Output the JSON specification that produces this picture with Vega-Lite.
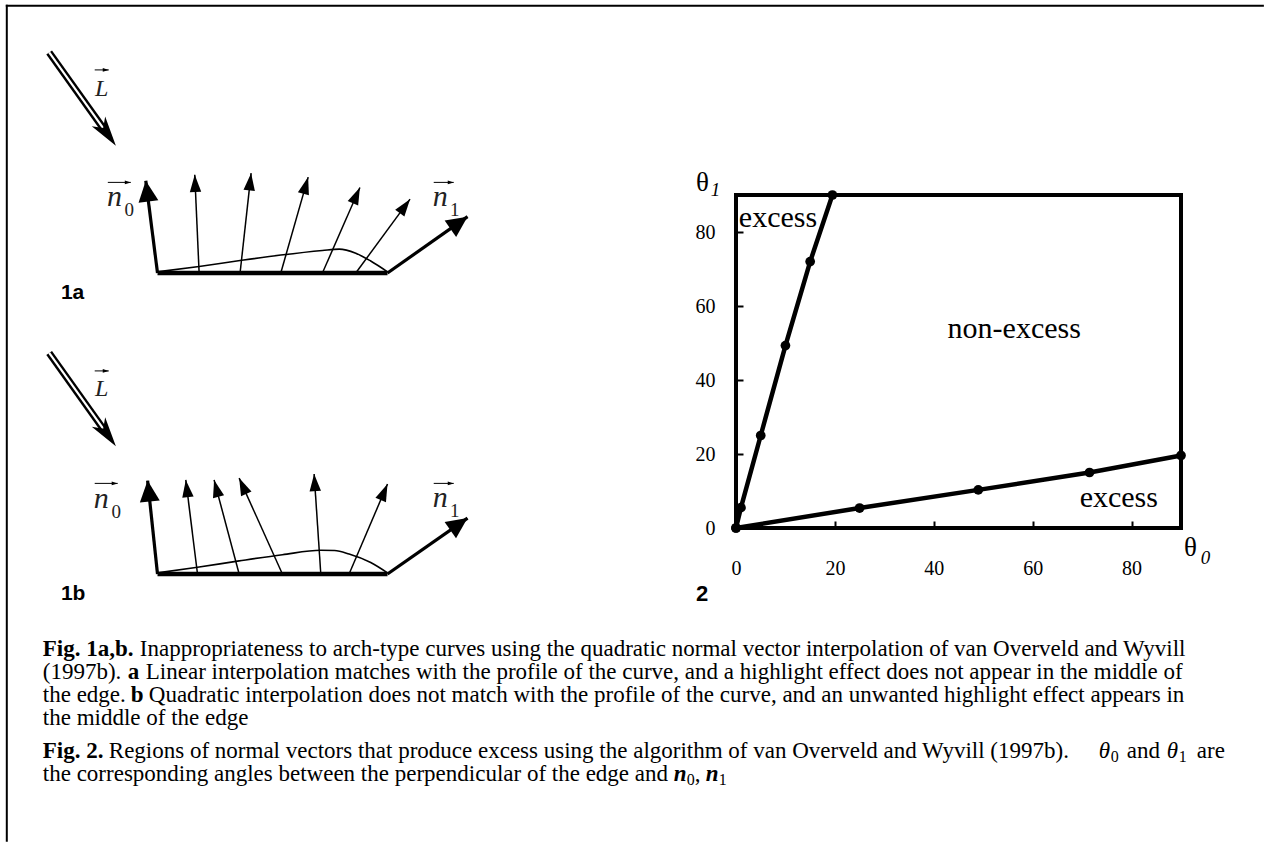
{
  "$schema": "https://vega.github.io/schema/vega-lite/v6.json",
  "background": "white",
  "padding": {"left": 5, "top": 4, "right": 0, "bottom": 0},
  "config": {"view": {"stroke": null}, "font": "Liberation Serif"},
  "datasets": {
    "diag": [
      {"fig": "a", "kind": "frame", "x": -6.552, "y": 11.622, "x2": 48.06, "y2": 11.622},
      {"fig": "a", "kind": "frame", "x": -6.552, "y": 11.622, "x2": -6.552, "y2": -24.68},
      {"fig": "a", "kind": "edge", "x": 0, "y": 0, "x2": 10, "y2": 0},
      {"fig": "b", "kind": "edge", "x": 0, "y": 0, "x2": 10, "y2": 0},
      {"fig": "a", "kind": "bold", "x": 0, "y": 0, "x2": -0.51, "y2": 4.01, "tx": -0.51, "ty": 4.01, "ang": -7.3},
      {"fig": "a", "kind": "bold", "x": 10, "y": 0, "x2": 13.48, "y2": 2.45, "tx": 13.48, "ty": 2.45, "ang": 54.8},
      {"fig": "b", "kind": "bold", "x": 0, "y": 0, "x2": -0.43, "y2": 4.06, "tx": -0.43, "ty": 4.06, "ang": -6.0},
      {"fig": "b", "kind": "bold", "x": 10, "y": 0, "x2": 13.48, "y2": 2.43, "tx": 13.48, "ty": 2.43, "ang": 55.1},
      {"fig": "a", "kind": "thin", "x": 1.81, "y": 0, "x2": 1.62, "y2": 4.27, "tx": 1.62, "ty": 4.27, "ang": -2.5},
      {"fig": "a", "kind": "thin", "x": 3.59, "y": 0, "x2": 4.07, "y2": 4.34, "tx": 4.07, "ty": 4.34, "ang": 6.3},
      {"fig": "a", "kind": "thin", "x": 5.36, "y": 0, "x2": 6.55, "y2": 4.17, "tx": 6.55, "ty": 4.17, "ang": 15.9},
      {"fig": "a", "kind": "thin", "x": 7.17, "y": 0, "x2": 8.8, "y2": 3.72, "tx": 8.8, "ty": 3.72, "ang": 23.7},
      {"fig": "a", "kind": "thin", "x": 8.62, "y": 0, "x2": 10.98, "y2": 3.21, "tx": 10.98, "ty": 3.21, "ang": 36.3},
      {"fig": "b", "kind": "thin", "x": 1.74, "y": 0, "x2": 1.23, "y2": 4.09, "tx": 1.23, "ty": 4.09, "ang": -7.1},
      {"fig": "b", "kind": "thin", "x": 3.55, "y": 0, "x2": 2.46, "y2": 4.09, "tx": 2.46, "ty": 4.09, "ang": -14.9},
      {"fig": "b", "kind": "thin", "x": 5.43, "y": 0, "x2": 3.55, "y2": 4.17, "tx": 3.55, "ty": 4.17, "ang": -24.3},
      {"fig": "b", "kind": "thin", "x": 7.1, "y": 0, "x2": 6.81, "y2": 4.35, "tx": 6.81, "ty": 4.35, "ang": -3.8},
      {"fig": "b", "kind": "thin", "x": 8.33, "y": 0, "x2": 10.0, "y2": 3.91, "tx": 10.0, "ty": 3.91, "ang": 23.1},
      {"fig": "a", "kind": "light", "x": -4.71, "y": 9.59, "x2": -2.37, "y2": 6.31, "tx": -1.81, "ty": 5.53, "ang": 144.5},
      {"fig": "b", "kind": "light", "x": -4.71, "y": 9.61, "x2": -2.37, "y2": 6.33, "tx": -1.81, "ty": 5.55, "ang": 144.5},
      {"fig": "a", "kind": "vec", "x": -2.73, "y": 8.83, "x2": -2.12, "y2": 8.83, "tx": -2.12, "ty": 8.83, "ang": 90},
      {"fig": "a", "kind": "vec", "x": -2.16, "y": 3.94, "x2": -1.16, "y2": 3.94, "tx": -1.16, "ty": 3.94, "ang": 90},
      {"fig": "a", "kind": "vec", "x": 12.01, "y": 3.94, "x2": 12.88, "y2": 3.94, "tx": 12.88, "ty": 3.94, "ang": 90},
      {"fig": "b", "kind": "vec", "x": -2.73, "y": 8.83, "x2": -2.12, "y2": 8.83, "tx": -2.12, "ty": 8.83, "ang": 90},
      {"fig": "b", "kind": "vec", "x": -2.73, "y": 3.94, "x2": -1.73, "y2": 3.94, "tx": -1.73, "ty": 3.94, "ang": 90},
      {"fig": "b", "kind": "vec", "x": 12.01, "y": 3.94, "x2": 12.88, "y2": 3.94, "tx": 12.88, "ty": 3.94, "ang": 90},
      {"fig": "a", "kind": "curve", "ord": 0, "x": 0, "y": 0.05},
      {"fig": "a", "kind": "curve", "ord": 1, "x": 1.81, "y": 0.28},
      {"fig": "a", "kind": "curve", "ord": 2, "x": 3.59, "y": 0.54},
      {"fig": "a", "kind": "curve", "ord": 3, "x": 5.36, "y": 0.78},
      {"fig": "a", "kind": "curve", "ord": 4, "x": 7.17, "y": 0.98},
      {"fig": "a", "kind": "curve", "ord": 5, "x": 7.9, "y": 1.04},
      {"fig": "a", "kind": "curve", "ord": 6, "x": 8.62, "y": 0.86},
      {"fig": "a", "kind": "curve", "ord": 7, "x": 9.27, "y": 0.52},
      {"fig": "a", "kind": "curve", "ord": 8, "x": 10, "y": 0.05},
      {"fig": "b", "kind": "curve", "ord": 0, "x": 0, "y": 0.05},
      {"fig": "b", "kind": "curve", "ord": 1, "x": 1.74, "y": 0.29},
      {"fig": "b", "kind": "curve", "ord": 2, "x": 3.55, "y": 0.57},
      {"fig": "b", "kind": "curve", "ord": 3, "x": 5.43, "y": 0.84},
      {"fig": "b", "kind": "curve", "ord": 4, "x": 7.1, "y": 1.03},
      {"fig": "b", "kind": "curve", "ord": 5, "x": 7.7, "y": 1.02},
      {"fig": "b", "kind": "curve", "ord": 6, "x": 8.33, "y": 0.87},
      {"fig": "b", "kind": "curve", "ord": 7, "x": 9.27, "y": 0.5},
      {"fig": "b", "kind": "curve", "ord": 8, "x": 10, "y": 0.05},
      {"fig": "a", "kind": "lbl", "sty": "L", "x": -2.72, "y": 7.71, "text": "L"},
      {"fig": "a", "kind": "lbl", "sty": "n", "x": -2.2, "y": 2.93, "text": "n"},
      {"fig": "a", "kind": "lbl", "sty": "sub", "x": -1.44, "y": 2.49, "text": "0"},
      {"fig": "a", "kind": "lbl", "sty": "n", "x": 11.97, "y": 2.93, "text": "n"},
      {"fig": "a", "kind": "lbl", "sty": "sub", "x": 12.72, "y": 2.49, "text": "1"},
      {"fig": "a", "kind": "lbl", "sty": "tag", "x": -4.2, "y": -1.12, "text": "1a"},
      {"fig": "b", "kind": "lbl", "sty": "L", "x": -2.72, "y": 7.73, "text": "L"},
      {"fig": "b", "kind": "lbl", "sty": "n", "x": -2.77, "y": 2.88, "text": "n"},
      {"fig": "b", "kind": "lbl", "sty": "sub", "x": -2.0, "y": 2.45, "text": "0"},
      {"fig": "b", "kind": "lbl", "sty": "n", "x": 11.97, "y": 2.93, "text": "n"},
      {"fig": "b", "kind": "lbl", "sty": "sub", "x": 12.72, "y": 2.49, "text": "1"},
      {"fig": "b", "kind": "lbl", "sty": "tag", "x": -4.2, "y": -1.12, "text": "1b"}
    ],
    "c2": [
      {"s": "A", "t0": 0, "t1": 0},
      {"s": "A", "t0": 1, "t1": 5.5},
      {"s": "A", "t0": 5, "t1": 25},
      {"s": "A", "t0": 10, "t1": 49.3},
      {"s": "A", "t0": 15, "t1": 72},
      {"s": "A", "t0": 19.5, "t1": 90},
      {"s": "B", "t0": 0, "t1": 0},
      {"s": "B", "t0": 25, "t1": 5.4},
      {"s": "B", "t0": 49, "t1": 10.3},
      {"s": "B", "t0": 71.5, "t1": 15},
      {"s": "B", "t0": 90, "t1": 19.6}
    ],
    "c2lab": [
      {"t0": 0.57, "t1": 81.4, "text": "excess", "sty": "big"},
      {"t0": 42.8, "t1": 51.4, "text": "non-excess", "sty": "big"},
      {"t0": 69.5, "t1": 5.6, "text": "excess", "sty": "big"},
      {"t0": -8.1, "t1": 91.2, "text": "θ", "sty": "theta"},
      {"t0": -5.1, "t1": 89.8, "text": "1", "sty": "sub"},
      {"t0": 90.6, "t1": -7.5, "text": "θ", "sty": "theta"},
      {"t0": 94.0, "t1": -9.6, "text": "0", "sty": "sub"},
      {"t0": -8.1, "t1": -19.7, "text": "2", "sty": "tag"}
    ],
    "cap": [
      {"x": 11.8, "y": 38.7, "text": "Fig. 1a,b.", "sty": "b"},
      {"x": 108.8, "y": 38.7, "text": "Inappropriateness to arch-type curves using the quadratic normal vector interpolation of van Overveld and Wyvill", "sty": "r"},
      {"x": 11.8, "y": 61.7, "text": "(1997b).", "sty": "r"},
      {"x": 96.8, "y": 61.7, "text": "a", "sty": "b"},
      {"x": 114.8, "y": 61.7, "text": "Linear interpolation matches with the profile of the curve, and a highlight effect does not appear in the middle of", "sty": "r"},
      {"x": 11.8, "y": 84.7, "text": "the edge.", "sty": "r"},
      {"x": 99.8, "y": 84.7, "text": "b", "sty": "b"},
      {"x": 117.8, "y": 84.7, "text": "Quadratic interpolation does not match with the profile of the curve, and an unwanted highlight effect appears in", "sty": "r"},
      {"x": 11.8, "y": 107.7, "text": "the middle of the edge", "sty": "r"},
      {"x": 11.8, "y": 140.7, "text": "Fig. 2.", "sty": "b"},
      {"x": 77.8, "y": 140.7, "text": "Regions of normal vectors that produce excess using the algorithm of van Overveld and Wyvill (1997b).", "sty": "r"},
      {"x": 1067.8, "y": 140.7, "text": "θ", "sty": "i"},
      {"x": 1079.8, "y": 144.7, "text": "0", "sty": "sub"},
      {"x": 1095.8, "y": 140.7, "text": "and", "sty": "r"},
      {"x": 1135.8, "y": 140.7, "text": "θ", "sty": "i"},
      {"x": 1147.8, "y": 144.7, "text": "1", "sty": "sub"},
      {"x": 1165.8, "y": 140.7, "text": "are", "sty": "r"},
      {"x": 11.8, "y": 163.7, "text": "the corresponding angles between the perpendicular of the edge and", "sty": "r"},
      {"x": 642.8, "y": 163.7, "text": "n", "sty": "bi"},
      {"x": 655.8, "y": 167.7, "text": "0", "sty": "sub"},
      {"x": 663.8, "y": 163.7, "text": ",", "sty": "r"},
      {"x": 674.8, "y": 163.7, "text": "n", "sty": "bi"},
      {"x": 687.8, "y": 167.7, "text": "1", "sty": "sub"}
    ]
  },
  "bounds": "flush",
  "spacing": 574,
  "vconcat": [
    {
      "bounds": "flush",
      "spacing": 705,
      "hconcat": [
        {
          "data": {"name": "diag"},
          "facet": {"row": {"field": "fig", "type": "nominal", "header": null}},
          "spacing": {"row": 48},
          "bounds": "flush",
          "spec": {
            "width": 460,
            "height": 253,
            "encoding": {
              "x": {"field": "x", "type": "quantitative", "scale": {"domain": [-5.5, 14.5], "nice": false, "zero": false}, "axis": null},
              "y": {"field": "y", "type": "quantitative", "scale": {"domain": [-1, 10], "nice": false, "zero": false}, "axis": null}
            },
            "layer": [
              {"transform": [{"filter": "datum.kind==='frame'"}], "mark": {"type": "rule", "color": "black", "strokeWidth": 2, "strokeCap": "square"}, "encoding": {"x2": {"field": "x2"}, "y2": {"field": "y2"}}},
              {"transform": [{"filter": "datum.kind==='curve'"}], "mark": {"type": "line", "color": "black", "strokeWidth": 1.6, "interpolate": "monotone"}, "encoding": {"order": {"field": "ord", "type": "quantitative"}}},
              {"transform": [{"filter": "datum.kind==='edge'"}], "mark": {"type": "rule", "color": "black", "strokeWidth": 4.5}, "encoding": {"x2": {"field": "x2"}, "y2": {"field": "y2"}}},
              {"transform": [{"filter": "datum.kind==='thin'"}], "mark": {"type": "rule", "color": "black", "strokeWidth": 1.5}, "encoding": {"x2": {"field": "x2"}, "y2": {"field": "y2"}}},
              {"transform": [{"filter": "datum.kind==='bold'"}], "mark": {"type": "rule", "color": "black", "strokeWidth": 3.2}, "encoding": {"x2": {"field": "x2"}, "y2": {"field": "y2"}}},
              {"transform": [{"filter": "datum.kind==='light'"}], "mark": {"type": "rule", "color": "black", "strokeWidth": 7}, "encoding": {"x2": {"field": "x2"}, "y2": {"field": "y2"}}},
              {"transform": [{"filter": "datum.kind==='light'"}], "mark": {"type": "rule", "color": "white", "strokeWidth": 2.2}, "encoding": {"x2": {"field": "x2"}, "y2": {"field": "y2"}}},
              {"transform": [{"filter": "datum.kind==='vec'"}], "mark": {"type": "rule", "color": "black", "strokeWidth": 1}, "encoding": {"x2": {"field": "x2"}, "y2": {"field": "y2"}}},
              {"transform": [{"filter": "datum.kind==='bold'"}], "mark": {"type": "point", "shape": "M0,0L-0.95,2L0.95,2Z", "size": 441, "filled": true, "color": "black", "opacity": 1, "strokeWidth": 0},
               "encoding": {"x": {"field": "tx", "type": "quantitative", "scale": {"domain": [-5.5, 14.5], "nice": false, "zero": false}, "axis": null}, "y": {"field": "ty", "type": "quantitative", "scale": {"domain": [-1, 10], "nice": false, "zero": false}, "axis": null}, "angle": {"field": "ang", "type": "quantitative", "scale": null}}},
              {"transform": [{"filter": "datum.kind==='thin'"}], "mark": {"type": "point", "shape": "M0,0L-0.66,2L0.66,2Z", "size": 300, "filled": true, "color": "black", "opacity": 1, "strokeWidth": 0},
               "encoding": {"x": {"field": "tx", "type": "quantitative", "scale": {"domain": [-5.5, 14.5], "nice": false, "zero": false}, "axis": null}, "y": {"field": "ty", "type": "quantitative", "scale": {"domain": [-1, 10], "nice": false, "zero": false}, "axis": null}, "angle": {"field": "ang", "type": "quantitative", "scale": null}}},
              {"transform": [{"filter": "datum.kind==='light'"}], "mark": {"type": "point", "shape": "M0,0L-0.55,2L0,1.45L0.55,2Z", "size": 900, "filled": true, "color": "black", "opacity": 1, "strokeWidth": 0},
               "encoding": {"x": {"field": "tx", "type": "quantitative", "scale": {"domain": [-5.5, 14.5], "nice": false, "zero": false}, "axis": null}, "y": {"field": "ty", "type": "quantitative", "scale": {"domain": [-1, 10], "nice": false, "zero": false}, "axis": null}, "angle": {"field": "ang", "type": "quantitative", "scale": null}}},
              {"transform": [{"filter": "datum.kind==='vec'"}], "mark": {"type": "point", "shape": "M0,0L-0.6,2L0.6,2Z", "size": 36, "filled": true, "color": "black", "opacity": 1, "strokeWidth": 0},
               "encoding": {"x": {"field": "tx", "type": "quantitative", "scale": {"domain": [-5.5, 14.5], "nice": false, "zero": false}, "axis": null}, "y": {"field": "ty", "type": "quantitative", "scale": {"domain": [-1, 10], "nice": false, "zero": false}, "axis": null}, "angle": {"field": "ang", "type": "quantitative", "scale": null}}},
              {"transform": [{"filter": "datum.sty==='L'"}], "mark": {"type": "text", "font": "Liberation Serif", "fontStyle": "italic", "fontSize": 24, "align": "left", "baseline": "alphabetic", "color": "#222"}, "encoding": {"text": {"field": "text"}}},
              {"transform": [{"filter": "datum.sty==='n'"}], "mark": {"type": "text", "font": "Liberation Serif", "fontStyle": "italic", "fontSize": 30, "align": "left", "baseline": "alphabetic", "color": "#222"}, "encoding": {"text": {"field": "text"}}},
              {"transform": [{"filter": "datum.sty==='sub'"}], "mark": {"type": "text", "font": "Liberation Serif", "fontSize": 19, "align": "left", "baseline": "alphabetic", "color": "#222"}, "encoding": {"text": {"field": "text"}}},
              {"transform": [{"filter": "datum.sty==='tag'"}], "mark": {"type": "text", "font": "Liberation Sans", "fontWeight": "bold", "fontSize": 21, "align": "left", "baseline": "alphabetic", "color": "black"}, "encoding": {"text": {"field": "text"}}}
            ]
          }
        },
        {
          "bounds": "flush",
          "spacing": 0,
          "vconcat": [
            {"width": 445, "height": 152, "data": {"values": [{"k": 1}]}, "mark": {"type": "text", "text": " "}, "encoding": {}},
            {
              "width": 445,
              "height": 333,
              "view": {"stroke": "black", "strokeWidth": 4},
              "encoding": {
                "x": {"field": "t0", "type": "quantitative", "scale": {"domain": [0, 90], "nice": false, "zero": false},
                      "axis": {"values": [0, 20, 40, 60, 80], "title": null, "domain": false, "grid": false, "ticks": true, "tickSize": -7, "tickWidth": 2, "tickColor": "black", "labelFont": "Liberation Serif", "labelFontSize": 20, "labelColor": "black", "labelPadding": 37, "labelFlush": false, "labelBaseline": "top"}},
                "y": {"field": "t1", "type": "quantitative", "scale": {"domain": [0, 90], "nice": false, "zero": false},
                      "axis": {"values": [0, 20, 40, 60, 80], "title": null, "domain": false, "grid": false, "ticks": true, "tickSize": -7, "tickWidth": 2, "tickColor": "black", "labelFont": "Liberation Serif", "labelFontSize": 20, "labelColor": "black", "labelPadding": 28, "labelFlush": false}}
              },
              "layer": [
                {"data": {"name": "c2"}, "mark": {"type": "line", "color": "black", "strokeWidth": 4.5}, "encoding": {"detail": {"field": "s"}, "order": {"field": "t0", "type": "quantitative"}}},
                {"data": {"name": "c2"}, "mark": {"type": "point", "filled": true, "color": "black", "opacity": 1, "size": 95}},
                {"data": {"name": "c2lab"}, "transform": [{"filter": "datum.sty==='big'"}], "mark": {"type": "text", "font": "Liberation Serif", "fontSize": 30, "align": "left", "baseline": "alphabetic", "color": "black"}, "encoding": {"text": {"field": "text"}}},
                {"data": {"name": "c2lab"}, "transform": [{"filter": "datum.sty==='theta'"}], "mark": {"type": "text", "font": "Liberation Serif", "fontSize": 27, "align": "left", "baseline": "alphabetic", "color": "black"}, "encoding": {"text": {"field": "text"}}},
                {"data": {"name": "c2lab"}, "transform": [{"filter": "datum.sty==='sub'"}], "mark": {"type": "text", "font": "Liberation Serif", "fontStyle": "italic", "fontSize": 19, "align": "left", "baseline": "alphabetic", "color": "black"}, "encoding": {"text": {"field": "text"}}},
                {"data": {"name": "c2lab"}, "transform": [{"filter": "datum.sty==='tag'"}], "mark": {"type": "text", "font": "Liberation Sans", "fontWeight": "bold", "fontSize": 22, "align": "left", "baseline": "alphabetic", "color": "black"}, "encoding": {"text": {"field": "text"}}}
              ]
            }
          ]
        }
      ]
    },
    {
      "width": 1220,
      "height": 218,
      "data": {"name": "cap"},
      "encoding": {
        "x": {"field": "x", "type": "quantitative", "scale": {"domain": [0, 1220], "nice": false, "zero": false}, "axis": null},
        "y": {"field": "y", "type": "quantitative", "scale": {"domain": [0, 218], "reverse": true, "nice": false, "zero": false}, "axis": null},
        "text": {"field": "text"}
      },
      "layer": [
        {"transform": [{"filter": "datum.sty==='r'"}], "mark": {"type": "text", "font": "Liberation Serif", "fontSize": 23, "align": "left", "baseline": "alphabetic", "color": "black"}},
        {"transform": [{"filter": "datum.sty==='b'"}], "mark": {"type": "text", "font": "Liberation Serif", "fontWeight": "bold", "fontSize": 23, "align": "left", "baseline": "alphabetic", "color": "black"}},
        {"transform": [{"filter": "datum.sty==='i'"}], "mark": {"type": "text", "font": "Liberation Serif", "fontStyle": "italic", "fontSize": 23, "align": "left", "baseline": "alphabetic", "color": "black"}},
        {"transform": [{"filter": "datum.sty==='bi'"}], "mark": {"type": "text", "font": "Liberation Serif", "fontStyle": "italic", "fontWeight": "bold", "fontSize": 23, "align": "left", "baseline": "alphabetic", "color": "black"}},
        {"transform": [{"filter": "datum.sty==='sub'"}], "mark": {"type": "text", "font": "Liberation Serif", "fontSize": 16, "align": "left", "baseline": "alphabetic", "color": "black"}}
      ]
    }
  ]
}
